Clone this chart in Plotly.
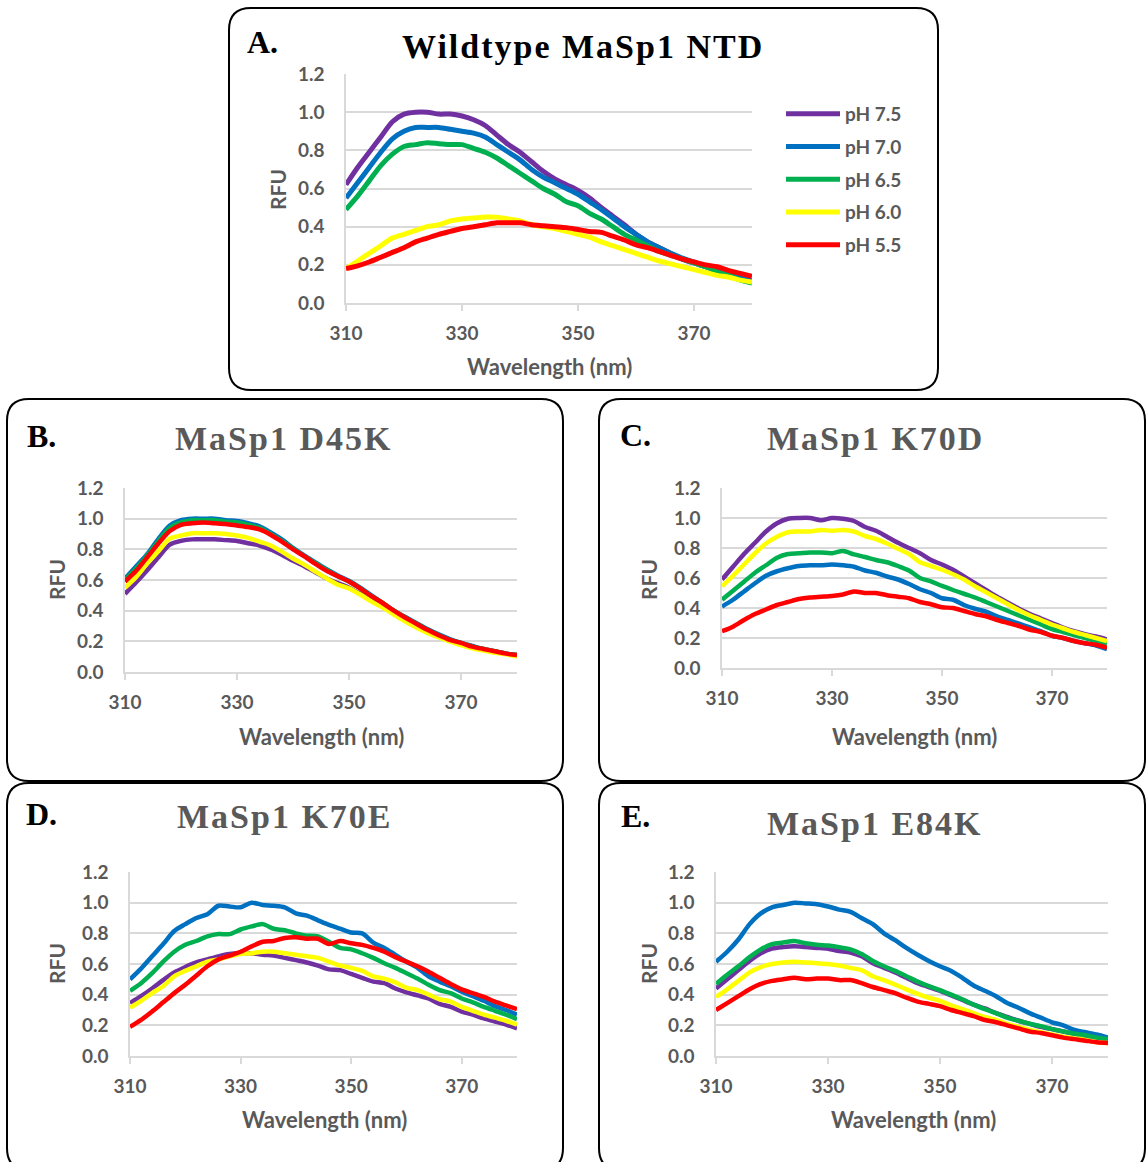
import plotly.graph_objects as go

# ---------------------------------------------------------------------------
# Intrinsic tryptophan fluorescence spectra (RFU) of MaSp1 NTD variants
# ---------------------------------------------------------------------------
WAVELENGTH = list(range(310, 381, 2))

PH_LABELS = ["pH 7.5", "pH 7.0", "pH 6.5", "pH 6.0", "pH 5.5"]
PH_COLORS = ["#7030A0", "#0070C0", "#00B050", "#FFFF00", "#FF0000"]

# A. Wildtype MaSp1 NTD
WT_PH75 = [0.62, 0.71, 0.79, 0.87, 0.95, 0.99, 1.00, 1.00, 0.99, 0.99, 0.98, 0.96, 0.93, 0.88, 0.83, 0.79, 0.74, 0.69,
           0.65, 0.62, 0.59, 0.55, 0.50, 0.455, 0.41, 0.36, 0.32, 0.29, 0.26, 0.23, 0.21, 0.19, 0.17, 0.15, 0.13, 0.115]
WT_PH70 = [0.55, 0.63, 0.71, 0.79, 0.86, 0.90, 0.92, 0.92, 0.92, 0.91, 0.90, 0.89, 0.87, 0.83, 0.79, 0.75, 0.70, 0.66,
           0.63, 0.60, 0.57, 0.53, 0.49, 0.445, 0.40, 0.36, 0.32, 0.29, 0.26, 0.235, 0.215, 0.19, 0.17, 0.15, 0.13, 0.115]
WT_PH65 = [0.49, 0.56, 0.64, 0.72, 0.78, 0.82, 0.83, 0.84, 0.835, 0.83, 0.83, 0.81, 0.79, 0.76, 0.72, 0.68, 0.64, 0.60,
           0.57, 0.53, 0.51, 0.47, 0.44, 0.40, 0.36, 0.33, 0.30, 0.27, 0.25, 0.23, 0.21, 0.19, 0.165, 0.145, 0.12, 0.105]
WT_PH60 = [0.18, 0.22, 0.26, 0.30, 0.34, 0.36, 0.38, 0.40, 0.41, 0.43, 0.44, 0.445, 0.45, 0.45, 0.44, 0.43, 0.41, 0.40,
           0.39, 0.375, 0.36, 0.345, 0.32, 0.30, 0.28, 0.26, 0.24, 0.22, 0.205, 0.19, 0.175, 0.16, 0.145, 0.135, 0.12, 0.11]
WT_PH55 = [0.18, 0.195, 0.215, 0.24, 0.265, 0.29, 0.32, 0.34, 0.36, 0.375, 0.39, 0.40, 0.41, 0.42, 0.42, 0.42, 0.41, 0.405,
           0.40, 0.395, 0.385, 0.375, 0.37, 0.35, 0.33, 0.305, 0.29, 0.27, 0.25, 0.23, 0.215, 0.20, 0.19, 0.17, 0.155, 0.14]

# B. MaSp1 D45K
D45K_PH75 = [0.51, 0.585, 0.665, 0.75, 0.83, 0.855, 0.865, 0.865, 0.865, 0.86, 0.855, 0.84, 0.825, 0.80, 0.765, 0.725, 0.69, 0.65,
             0.61, 0.58, 0.55, 0.51, 0.465, 0.425, 0.38, 0.335, 0.295, 0.26, 0.23, 0.205, 0.18, 0.16, 0.145, 0.13, 0.12, 0.105]
D45K_PH70 = [0.61, 0.69, 0.77, 0.87, 0.955, 0.99, 1.00, 1.00, 1.00, 0.99, 0.985, 0.97, 0.95, 0.91, 0.865, 0.81, 0.76, 0.715,
             0.67, 0.63, 0.595, 0.55, 0.50, 0.45, 0.40, 0.36, 0.32, 0.28, 0.245, 0.215, 0.19, 0.17, 0.15, 0.135, 0.12, 0.11]
D45K_PH65 = [0.60, 0.675, 0.76, 0.855, 0.94, 0.975, 0.99, 0.99, 0.99, 0.98, 0.975, 0.96, 0.94, 0.90, 0.855, 0.805, 0.755, 0.71,
             0.665, 0.625, 0.59, 0.545, 0.495, 0.45, 0.40, 0.355, 0.315, 0.275, 0.24, 0.21, 0.19, 0.165, 0.15, 0.135, 0.12, 0.11]
D45K_PH60 = [0.55, 0.62, 0.71, 0.79, 0.87, 0.89, 0.905, 0.905, 0.905, 0.90, 0.89, 0.875, 0.85, 0.825, 0.785, 0.74, 0.70, 0.655,
             0.61, 0.57, 0.545, 0.505, 0.46, 0.42, 0.375, 0.33, 0.29, 0.255, 0.225, 0.20, 0.175, 0.155, 0.14, 0.125, 0.115, 0.10]
D45K_PH55 = [0.59, 0.66, 0.75, 0.84, 0.92, 0.96, 0.97, 0.975, 0.97, 0.965, 0.955, 0.945, 0.93, 0.895, 0.85, 0.80, 0.755, 0.705,
             0.66, 0.625, 0.59, 0.545, 0.495, 0.45, 0.40, 0.355, 0.315, 0.275, 0.24, 0.21, 0.19, 0.165, 0.15, 0.135, 0.12, 0.11]

# C. MaSp1 K70D
K70D_PH75 = [0.59, 0.675, 0.76, 0.835, 0.91, 0.965, 0.995, 1.00, 1.00, 0.985, 1.00, 0.995, 0.98, 0.94, 0.915, 0.875, 0.835, 0.80,
             0.765, 0.72, 0.69, 0.655, 0.61, 0.565, 0.52, 0.475, 0.435, 0.395, 0.36, 0.33, 0.30, 0.27, 0.245, 0.225, 0.21, 0.19]
K70D_PH70 = [0.41, 0.455, 0.51, 0.565, 0.615, 0.645, 0.665, 0.68, 0.685, 0.685, 0.69, 0.685, 0.675, 0.65, 0.635, 0.61, 0.59, 0.56,
             0.525, 0.50, 0.465, 0.455, 0.42, 0.395, 0.375, 0.345, 0.32, 0.295, 0.27, 0.245, 0.215, 0.20, 0.18, 0.165, 0.15, 0.125]
K70D_PH65 = [0.455, 0.515, 0.575, 0.635, 0.685, 0.735, 0.76, 0.765, 0.77, 0.77, 0.765, 0.78, 0.757, 0.74, 0.72, 0.705, 0.68, 0.65,
             0.60, 0.577, 0.547, 0.52, 0.495, 0.47, 0.44, 0.41, 0.38, 0.35, 0.32, 0.29, 0.26, 0.24, 0.22, 0.20, 0.18, 0.16]
K70D_PH60 = [0.545, 0.615, 0.69, 0.765, 0.83, 0.875, 0.905, 0.91, 0.91, 0.92, 0.915, 0.92, 0.91, 0.88, 0.86, 0.83, 0.795, 0.76,
             0.705, 0.68, 0.655, 0.625, 0.59, 0.545, 0.505, 0.465, 0.425, 0.385, 0.35, 0.32, 0.29, 0.265, 0.24, 0.22, 0.20, 0.18]
K70D_PH55 = [0.245, 0.275, 0.32, 0.36, 0.39, 0.42, 0.44, 0.46, 0.47, 0.475, 0.48, 0.49, 0.51, 0.50, 0.50, 0.485, 0.475, 0.465,
             0.44, 0.425, 0.405, 0.40, 0.38, 0.36, 0.345, 0.32, 0.30, 0.28, 0.255, 0.24, 0.215, 0.20, 0.18, 0.165, 0.155, 0.135]

# D. MaSp1 K70E
K70E_PH75 = [0.345, 0.39, 0.44, 0.495, 0.545, 0.58, 0.61, 0.63, 0.65, 0.665, 0.67, 0.67, 0.66, 0.655, 0.64, 0.625, 0.61, 0.59,
             0.565, 0.56, 0.535, 0.51, 0.485, 0.475, 0.44, 0.415, 0.395, 0.375, 0.34, 0.32, 0.29, 0.27, 0.245, 0.225, 0.205, 0.18]
K70E_PH70 = [0.50, 0.57, 0.65, 0.73, 0.815, 0.86, 0.90, 0.925, 0.98, 0.975, 0.97, 1.00, 0.985, 0.98, 0.97, 0.93, 0.915, 0.885,
             0.855, 0.83, 0.805, 0.80, 0.74, 0.705, 0.66, 0.615, 0.575, 0.52, 0.485, 0.455, 0.42, 0.39, 0.36, 0.325, 0.30, 0.27]
K70E_PH65 = [0.425, 0.475, 0.54, 0.615, 0.68, 0.725, 0.75, 0.78, 0.795, 0.795, 0.825, 0.845, 0.86, 0.83, 0.82, 0.80, 0.785, 0.78,
             0.745, 0.705, 0.695, 0.67, 0.64, 0.605, 0.575, 0.54, 0.505, 0.465, 0.43, 0.41, 0.375, 0.35, 0.32, 0.295, 0.27, 0.24]
K70E_PH60 = [0.315, 0.36, 0.41, 0.455, 0.52, 0.555, 0.585, 0.615, 0.63, 0.65, 0.665, 0.67, 0.68, 0.68, 0.67, 0.66, 0.65, 0.64,
             0.615, 0.59, 0.575, 0.555, 0.52, 0.505, 0.48, 0.445, 0.43, 0.40, 0.37, 0.355, 0.32, 0.295, 0.27, 0.25, 0.23, 0.205]
K70E_PH55 = [0.19, 0.235, 0.29, 0.35, 0.41, 0.465, 0.525, 0.585, 0.63, 0.655, 0.68, 0.715, 0.745, 0.75, 0.77, 0.775, 0.765, 0.765,
             0.73, 0.75, 0.735, 0.725, 0.705, 0.68, 0.645, 0.615, 0.585, 0.55, 0.51, 0.47, 0.435, 0.41, 0.385, 0.355, 0.33, 0.305]

# E. MaSp1 E84K
E84K_PH75 = [0.44, 0.50, 0.56, 0.62, 0.67, 0.70, 0.71, 0.715, 0.71, 0.705, 0.70, 0.685, 0.675, 0.65, 0.605, 0.575, 0.545, 0.51,
             0.475, 0.45, 0.425, 0.395, 0.365, 0.335, 0.31, 0.28, 0.255, 0.23, 0.21, 0.19, 0.175, 0.16, 0.145, 0.13, 0.12, 0.11]
E84K_PH70 = [0.615, 0.68, 0.76, 0.86, 0.93, 0.97, 0.985, 1.00, 0.995, 0.99, 0.975, 0.955, 0.94, 0.90, 0.86, 0.80, 0.755, 0.705,
             0.66, 0.62, 0.585, 0.555, 0.51, 0.46, 0.425, 0.39, 0.345, 0.315, 0.28, 0.25, 0.22, 0.20, 0.17, 0.155, 0.14, 0.12]
E84K_PH65 = [0.47, 0.53, 0.585, 0.645, 0.695, 0.73, 0.74, 0.75, 0.735, 0.725, 0.72, 0.71, 0.695, 0.665, 0.62, 0.585, 0.555, 0.52,
             0.485, 0.455, 0.43, 0.40, 0.37, 0.335, 0.305, 0.28, 0.25, 0.23, 0.21, 0.195, 0.175, 0.16, 0.145, 0.135, 0.12, 0.11]
E84K_PH60 = [0.385, 0.435, 0.49, 0.545, 0.58, 0.60, 0.61, 0.615, 0.61, 0.605, 0.60, 0.59, 0.575, 0.56, 0.52, 0.495, 0.465, 0.435,
             0.405, 0.38, 0.36, 0.33, 0.305, 0.28, 0.255, 0.235, 0.21, 0.19, 0.17, 0.155, 0.14, 0.125, 0.115, 0.105, 0.09, 0.085]
E84K_PH55 = [0.30, 0.345, 0.39, 0.435, 0.47, 0.49, 0.50, 0.51, 0.50, 0.505, 0.505, 0.495, 0.495, 0.475, 0.45, 0.43, 0.41, 0.38,
             0.355, 0.34, 0.325, 0.30, 0.28, 0.26, 0.235, 0.22, 0.20, 0.18, 0.16, 0.15, 0.135, 0.12, 0.11, 0.10, 0.09, 0.085]

X_TICKS = [310, 330, 350, 370]
Y_TICKS = [0.0, 0.2, 0.4, 0.6, 0.8, 1.0, 1.2]

# ---------------------------------------------------------------------------
# Page geometry (pixels) and helpers
# ---------------------------------------------------------------------------
W, H = 1146, 1162


def fx(x):
    return x / W


def fy(y):
    return 1 - y / H


GRAY_TEXT = "#595959"
GRID = "#D9D9D9"
SANS = "Lato, 'Open Sans', sans-serif"
SERIF = "'Liberation Serif', 'Times New Roman', serif"

# plot: (left, right, top, bottom); box: (left, right, top, bottom)
panels = [
    dict(letter="A.", title="Wildtype MaSp1 NTD", title_color="#000000",
         series=[WT_PH75, WT_PH70, WT_PH65, WT_PH60, WT_PH55], width=5,
         plot=(346, 752, 74, 303), box=(229, 938, 8, 390),
         letter_xy=(262, 42), title_xy=(583, 47), rfu_xy=(277, 190), wl_xy=(549, 366)),
    dict(letter="B.", title="MaSp1 D45K", title_color=GRAY_TEXT,
         series=[D45K_PH75, D45K_PH70, D45K_PH65, D45K_PH60, D45K_PH55], width=4.5,
         plot=(125, 517, 488, 672), box=(7, 563, 399, 781),
         letter_xy=(41, 436), title_xy=(284, 439), rfu_xy=(56, 580), wl_xy=(321, 736)),
    dict(letter="C.", title="MaSp1 K70D", title_color=GRAY_TEXT,
         series=[K70D_PH75, K70D_PH70, K70D_PH65, K70D_PH60, K70D_PH55], width=4.5,
         plot=(722, 1107, 488, 668), box=(599, 1145, 399, 781),
         letter_xy=(635, 435), title_xy=(875, 439), rfu_xy=(648, 580), wl_xy=(914, 736)),
    dict(letter="D.", title="MaSp1 K70E", title_color=GRAY_TEXT,
         series=[K70E_PH75, K70E_PH70, K70E_PH65, K70E_PH60, K70E_PH55], width=4.5,
         plot=(130, 517, 872, 1056), box=(7, 563, 783, 1170),
         letter_xy=(41, 814), title_xy=(285, 816), rfu_xy=(56, 964), wl_xy=(324, 1119)),
    dict(letter="E.", title="MaSp1 E84K", title_color=GRAY_TEXT,
         series=[E84K_PH75, E84K_PH70, E84K_PH65, E84K_PH60, E84K_PH55], width=4.5,
         plot=(716, 1108, 872, 1056), box=(599, 1145, 783, 1170),
         letter_xy=(635, 816), title_xy=(875, 823), rfu_xy=(648, 964), wl_xy=(913, 1119)),
]


def rounded_box(x0, x1, y0, y1, r=22):
    pts = [
        ("M", [(x0 + r, y0)]), ("L", [(x1 - r, y0)]), ("Q", [(x1, y0), (x1, y0 + r)]),
        ("L", [(x1, y1 - r)]), ("Q", [(x1, y1), (x1 - r, y1)]), ("L", [(x0 + r, y1)]),
        ("Q", [(x0, y1), (x0, y1 - r)]), ("L", [(x0, y0 + r)]), ("Q", [(x0, y0), (x0 + r, y0)]),
    ]
    path = " ".join(cmd + " ".join(f"{fx(x):.5f},{fy(y):.5f}" for x, y in p) for cmd, p in pts) + " Z"
    return dict(type="path", xref="paper", yref="paper", path=path,
                line=dict(color="#000000", width=2), fillcolor="rgba(0,0,0,0)")


fig = go.Figure()
layout = dict(width=W, height=H, autosize=False, margin=dict(l=0, r=0, t=0, b=0, pad=0, autoexpand=False),
              paper_bgcolor="white", plot_bgcolor="white", shapes=[], annotations=[])

for i, p in enumerate(panels):
    n = "" if i == 0 else str(i + 1)
    left, right, top, bottom = p["plot"]
    for k, ys in enumerate(p["series"]):
        fig.add_trace(go.Scatter(
            x=WAVELENGTH, y=ys, mode="lines", name=PH_LABELS[k],
            line=dict(color=PH_COLORS[k], width=p["width"], shape="spline", smoothing=0.8),
            xaxis="x" + n, yaxis="y" + n, showlegend=(i == 0), legendgroup=PH_LABELS[k] if i == 0 else None,
            hoverinfo="skip"))
    tickfont = dict(family=SANS, size=19, color=GRAY_TEXT, weight="bold")
    layout["xaxis" + n] = dict(
        domain=[fx(left), fx(right)], range=[310, 380], tickvals=X_TICKS, anchor="y" + n,
        ticks="outside", ticklen=6, tickwidth=1.5, tickcolor=GRID, automargin=False,
        showline=True, linecolor=GRID, linewidth=1.5, showgrid=False, zeroline=False,
        tickfont=tickfont, ticklabelstandoff=6, fixedrange=True)
    layout["yaxis" + n] = dict(
        domain=[fy(bottom), fy(top)], range=[0, 1.2], tickvals=Y_TICKS, tickformat=".1f", anchor="x" + n,
        ticks="", showline=True, linecolor=GRID, linewidth=1.5, automargin=False,
        showgrid=True, gridcolor=GRID, gridwidth=1.5, zeroline=False,
        tickfont=tickfont, ticklabelstandoff=16, fixedrange=True)

    layout["shapes"].append(rounded_box(*p["box"]))
    ann = layout["annotations"]
    ann.append(dict(text=p["letter"], x=fx(p["letter_xy"][0]), y=fy(p["letter_xy"][1]),
                    xref="paper", yref="paper", showarrow=False, xanchor="center", yanchor="middle",
                    font=dict(family=SERIF, size=32, color="#000000", weight="bold")))
    ann.append(dict(text=p["title"], x=fx(p["title_xy"][0]), y=fy(p["title_xy"][1]),
                    xref="paper", yref="paper", showarrow=False, xanchor="center", yanchor="middle",
                    font=dict(family=SERIF, size=34, color=p["title_color"], weight="bold")))
    ann.append(dict(text="RFU", x=fx(p["rfu_xy"][0]), y=fy(p["rfu_xy"][1]), textangle=-90,
                    xref="paper", yref="paper", showarrow=False, xanchor="center", yanchor="middle",
                    font=dict(family=SANS, size=21, color=GRAY_TEXT, weight="bold")))
    ann.append(dict(text="Wavelength (nm)", x=fx(p["wl_xy"][0]), y=fy(p["wl_xy"][1]),
                    xref="paper", yref="paper", showarrow=False, xanchor="center", yanchor="middle",
                    font=dict(family=SANS, size=22, color=GRAY_TEXT, weight="bold")))

layout["showlegend"] = True
layout["legend"] = dict(x=fx(781), y=fy(95), xanchor="left", yanchor="top",
                        font=dict(family=SANS, size=19, color=GRAY_TEXT, weight="bold"),
                        itemwidth=54, tracegroupgap=5, bgcolor="rgba(0,0,0,0)")
fig.update_layout(**layout)

# Page without body margin; Excel-style expanded character spacing for the serif panel titles
page_js = """
document.body.style.margin = '0';
document.body.style.overflow = 'hidden';
var gd = document.getElementById('{plot_id}');
function spreadTitles() {
  gd.querySelectorAll('g.annotation text').forEach(function (t) {
    if (t.textContent.indexOf('MaSp1') >= 0) { t.style.letterSpacing = '2px'; }
  });
}
spreadTitles();
if (gd.on) { gd.on('plotly_afterplot', spreadTitles); }
"""

fig.write_html("out.html", post_script=page_js)
